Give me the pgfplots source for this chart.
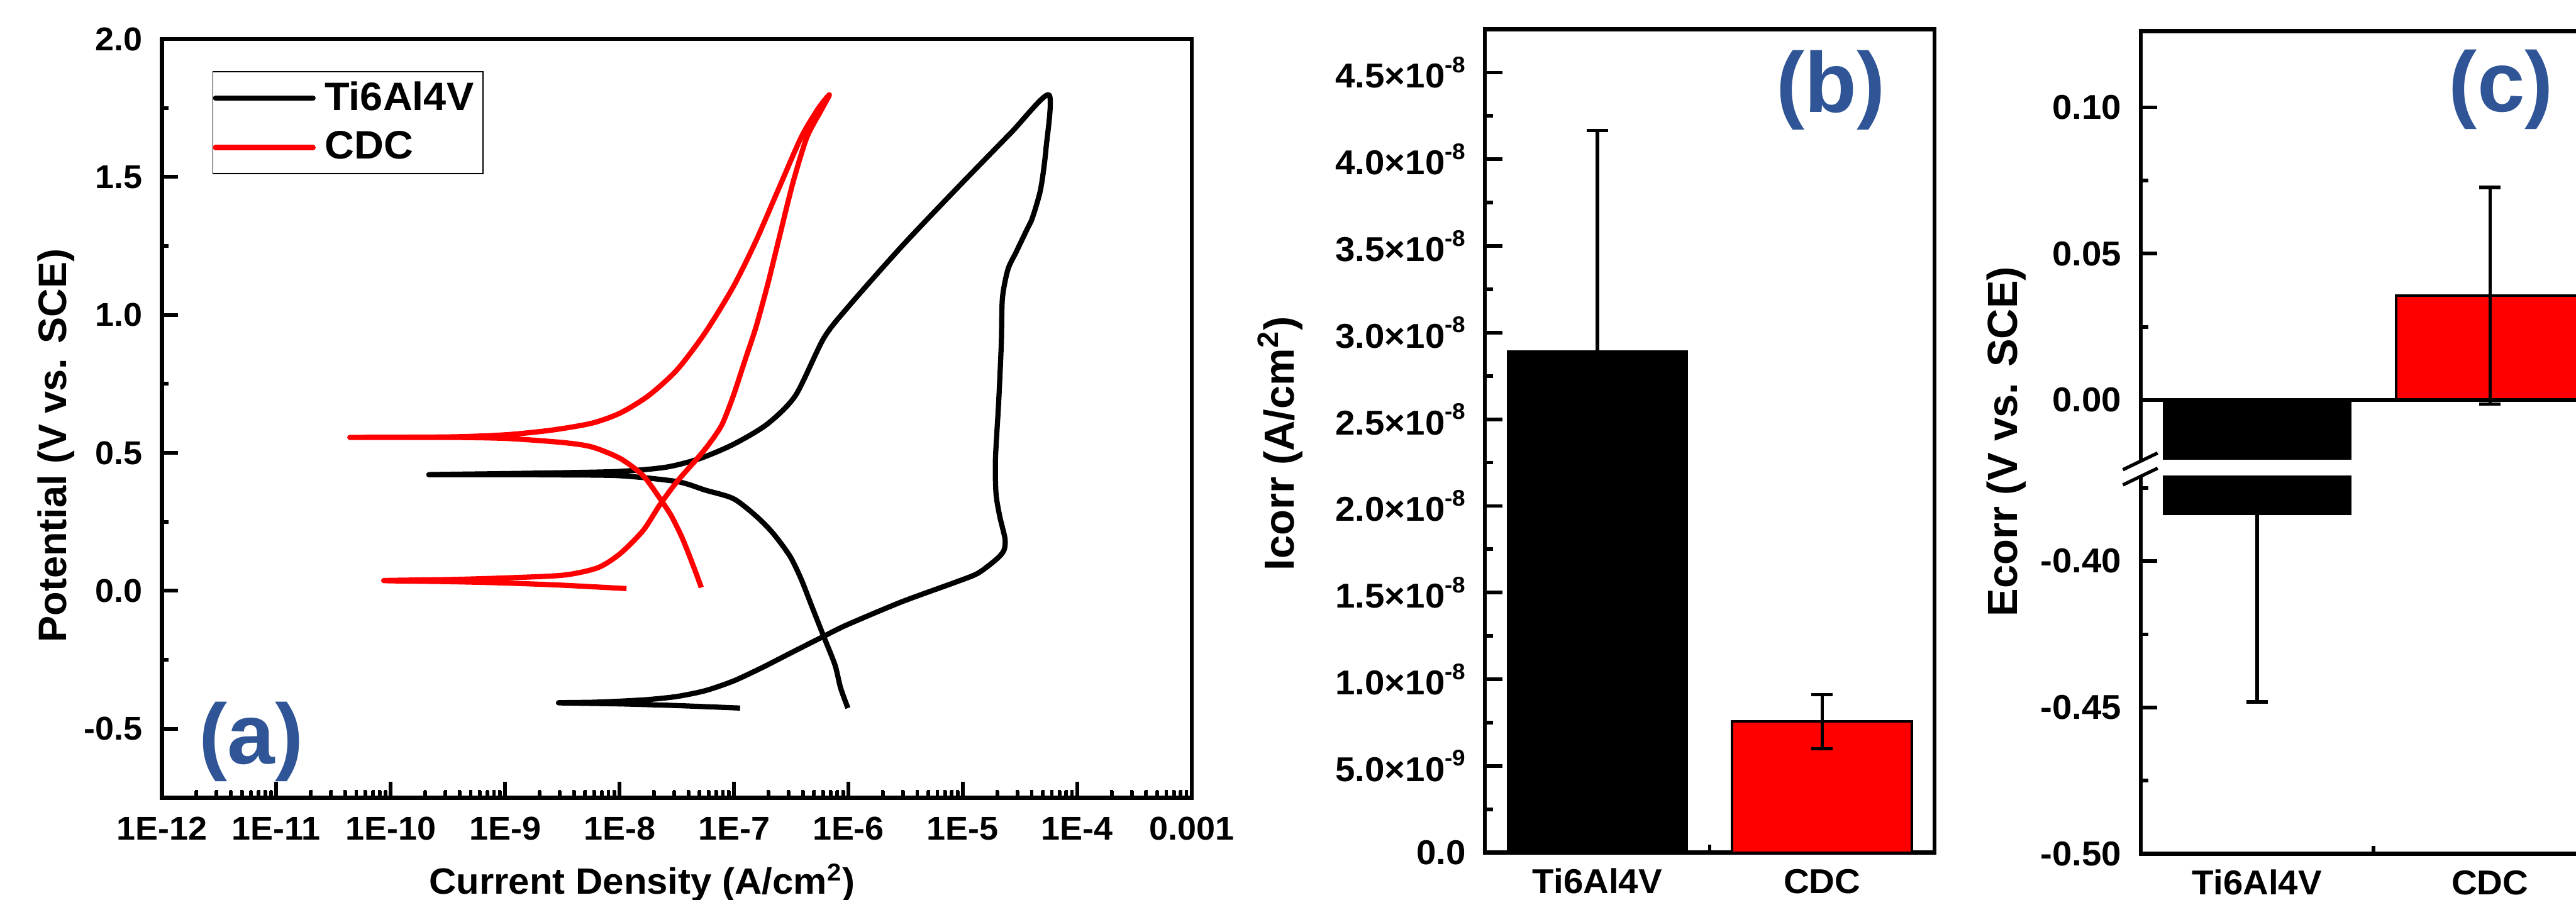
\documentclass[border=0pt]{standalone}
\usepackage{fontspec}
\setmainfont{Liberation Sans}[FakeStretch=1.03]
\newfontfamily\plainsf{Liberation Sans}
\usepackage{pgfplots}
\pgfplotsset{compat=1.18}
\definecolor{lblblue}{HTML}{2F5597}
\definecolor{cdcred}{HTML}{FF0000}

\newcommand\ylabfont{\plainsf\fontsize{13.8}{15}\selectfont\bfseries}
\newcommand\panelfont{\plainsf\fontsize{28}{30}\selectfont\bfseries}
\newcommand\sexp[1]{\raisebox{5pt}{\fontsize{7.4}{8}\selectfont#1}}

\pgfplotsset{
  orig/.style={scale only axis, anchor=south west,
    axis line style={line width=1.3pt},
    tick align=inside, xtick pos=left, ytick pos=left,
    major tick length=5.4pt, minor tick length=2.6pt,
    tick style={black, line width=1.2pt},
    tick label style={font=\fontsize{11.3}{12}\selectfont\bfseries},
    yticklabel style={anchor=east, xshift=-2.8pt},
    xticklabel style={anchor=base, yshift=-13.4pt},
    ylabel style={font=\ylabfont, anchor=center},
  },
  barax/.style={orig, xmin=-0.5, xmax=1.5, xtick={0,1}, xticklabels={Ti6Al4V,CDC},
    major x tick style={draw=none}, minor xtick={0.5},
    error bars/error bar style={line width=1.1pt, black},
    error bars/error mark options={rotate=90, mark size=3.5pt, line width=1.1pt, black},
  },
}

\begin{document}
\begin{tikzpicture}
\useasboundingbox (0,0) rectangle (844.8pt,295pt);
\clip (0,0) rectangle (844.8pt,295pt);

% (a) cyclic polarisation curves
\begin{axis}[orig, at={(53.1pt,33.4pt)}, width=337.7pt, height=248.8pt,
  major tick length=5.2pt, minor tick length=2.2pt,
  tick label style={font=\fontsize{10.8}{12}\selectfont\bfseries},
  xticklabel style={yshift=-0.4pt},
  xmode=log, xmin=1e-12, xmax=1e-3, ymin=-0.75, ymax=2.0,
  xtick={1e-12,1e-11,1e-10,1e-9,1e-8,1e-7,1e-6,1e-5,1e-4,1e-3},
  xticklabels={1E-12,1E-11,1E-10,1E-9,1E-8,1E-7,1E-6,1E-5,1E-4,0.001},
  ytick={-0.5,0,0.5,1,1.5,2}, yticklabels={-0.5,0.0,0.5,1.0,1.5,2.0},
  minor ytick={-0.25,0.25,0.75,1.25,1.75},
  xlabel={Current Density (A/cm\textsuperscript{2})},
  ylabel={Potential (V vs. SCE)},
  xlabel style={font=\fontsize{12}{13}\selectfont\bfseries, at={(rel axis cs:0.4664,-0.127)}, anchor=base},
  ylabel style={font=\plainsf\fontsize{13}{15}\selectfont\bfseries, at={(rel axis cs:-0.1028,0.464)}},
  legend style={at={(rel axis cs:0.0489,0.958)}, anchor=north west, draw=black, line width=0.4pt,
    font=\fontsize{13}{14}\selectfont\bfseries, inner xsep=0pt, inner ysep=0.8pt, row sep=0.4pt,
    nodes={inner ysep=2.5pt, inner xsep=3pt}},
  legend cell align=left,
  legend image code/.code={\draw[#1, line cap=round] (0pt,0pt) -- (32pt,0pt);},
]
\addplot[black, line width=1.7pt, line join=round, smooth, tension=0.45] coordinates {
(9.9e-7,-0.425) (8.55e-7,-0.352) (7.64e-7,-0.269) (6.08e-7,-0.165) (4.84e-7,-0.061)
(3.86e-7,0.043) (3.08e-7,0.126) (2.19e-7,0.209) (1.56e-7,0.271) (9.89e-8,0.334)
(5.61e-8,0.365) (3.18e-8,0.396)
(1.02e-8,0.417) (3.16e-9,0.420) (1.05e-9,0.421) (2.15e-10,0.421)
(1.05e-9,0.425) (3.16e-9,0.428) (1.02e-8,0.433) (2.54e-8,0.448) (5.0e-8,0.479)
(9.89e-8,0.531) (1.95e-7,0.604) (3.45e-7,0.708) (6.08e-7,0.915) (1.0e-6,1.03)
(2.92e-6,1.248) (8.75e-6,1.456) (2.62e-5,1.659) (5.64e-5,1.798)
(5.33e-5,1.601) (4.79e-5,1.456) (4.06e-5,1.352) (3.64e-5,1.310) (2.92e-5,1.227)
(2.48e-5,1.165) (2.22e-5,1.061) (2.17e-5,0.895) (2.06e-5,0.687) (1.93e-5,0.479)
(1.95e-5,0.354) (2.10e-5,0.271) (2.34e-5,0.188) (2.29e-5,0.147) (1.99e-5,0.116)
(1.36e-5,0.064) (8.75e-6,0.032) (2.92e-6,-0.040) (9.77e-7,-0.123) (6.08e-7,-0.165)
(3.08e-7,-0.227) (1.75e-7,-0.279) (9.89e-8,-0.327) (5.61e-8,-0.362) (3.18e-8,-0.383)
(1.80e-8,-0.394) (1.02e-8,-0.400) (5.78e-9,-0.404) (2.93e-9,-0.406)
(1.02e-8,-0.410) (3.18e-8,-0.416) (1.13e-7,-0.425)
};
\addlegendentry{Ti6Al4V}
\addplot[cdcred, line width=1.7pt, line join=round, smooth, tension=0.45] coordinates {
(5.18e-8,0.012) (4.47e-8,0.084) (3.56e-8,0.188) (2.84e-8,0.271) (2.26e-8,0.334)
(1.61e-8,0.417) (1.02e-8,0.479) (5.78e-9,0.521) (3.28e-9,0.537) (1.05e-9,0.552)
(3.39e-10,0.556) (4.39e-11,0.556)
(3.39e-10,0.558) (1.05e-9,0.566) (2.61e-9,0.583) (5.78e-9,0.608) (1.02e-8,0.645)
(1.80e-8,0.708) (3.18e-8,0.801) (5.61e-8,0.936) (9.89e-8,1.103) (1.56e-7,1.269)
(2.45e-7,1.456) (3.86e-7,1.643) (5.43e-7,1.747) (6.82e-7,1.798)
(5.75e-7,1.740) (4.33e-7,1.643) (3.26e-7,1.476) (2.45e-7,1.269) (1.95e-7,1.103)
(1.56e-7,0.957) (1.24e-7,0.832) (9.89e-8,0.708) (7.89e-8,0.604) (6.28e-8,0.541)
(5.0e-8,0.489) (3.18e-8,0.396) (2.26e-8,0.313) (1.61e-8,0.219) (1.02e-8,0.136)
(6.49e-9,0.084) (3.28e-9,0.057) (1.05e-9,0.047) (3.39e-10,0.041) (8.67e-11,0.037)
(3.39e-10,0.033) (1.05e-9,0.028) (3.28e-9,0.020) (1.15e-8,0.008)
};
\addlegendentry{CDC}
% log-axis ticks along the bottom edge (decades and 2..9 subdivisions)
\pgfplotsinvokeforeach{1e-11,1e-10,1e-9,1e-8,1e-7,1e-6,1e-5,1e-4}{
  \draw[line width=1.2pt] (axis cs:#1,-0.75) -- ++(0pt,5pt);}
\pgfplotsinvokeforeach{2e-12,3e-12,4e-12,5e-12,6e-12,7e-12,8e-12,9e-12,
    2e-11,3e-11,4e-11,5e-11,6e-11,7e-11,8e-11,9e-11,
    2e-10,3e-10,4e-10,5e-10,6e-10,7e-10,8e-10,9e-10,
    2e-9,3e-9,4e-9,5e-9,6e-9,7e-9,8e-9,9e-9,
    2e-8,3e-8,4e-8,5e-8,6e-8,7e-8,8e-8,9e-8,
    2e-7,3e-7,4e-7,5e-7,6e-7,7e-7,8e-7,9e-7,
    2e-6,3e-6,4e-6,5e-6,6e-6,7e-6,8e-6,9e-6,
    2e-5,3e-5,4e-5,5e-5,6e-5,7e-5,8e-5,9e-5,
    2e-4,3e-4,4e-4,5e-4,6e-4,7e-4,8e-4,9e-4}{
  \draw[line width=1.0pt] (axis cs:#1,-0.75) -- ++(0pt,2.6pt);}
\end{axis}

% (b) Icorr
\begin{axis}[barax, at={(487pt,15.4pt)}, width=147.4pt, height=270pt,
  major tick length=5.8pt, minor tick length=2.7pt,
  ymin=0, ymax=4.75e-8, scaled y ticks=false,
  ytick={0,5e-9,1e-8,1.5e-8,2e-8,2.5e-8,3e-8,3.5e-8,4e-8,4.5e-8},
  yticklabels={0.0,5.0×10\sexp{-9},1.0×10\sexp{-8},1.5×10\sexp{-8},
    2.0×10\sexp{-8},2.5×10\sexp{-8},3.0×10\sexp{-8},
    3.5×10\sexp{-8},4.0×10\sexp{-8},4.5×10\sexp{-8}},
  minor ytick={2.5e-9,7.5e-9,1.25e-8,1.75e-8,2.25e-8,2.75e-8,3.25e-8,3.75e-8,4.25e-8},
  ylabel={Icorr (A/cm\textsuperscript{2})},
  ylabel style={at={(rel axis cs:-0.456,0.497)}},
]
\addplot[ybar, bar width=0.8, bar shift=0pt, fill=black, draw=black,
  error bars/.cd, y dir=both, y explicit] coordinates {(0,2.893e-8) +- (0,1.272e-8)};
\addplot[ybar, bar width=0.8, bar shift=0pt, fill=cdcred, draw=black, line width=0.8pt,
  error bars/.cd, y dir=both, y explicit] coordinates {(1,7.56e-9) +- (0,1.56e-9)};
\end{axis}

% (c) Ecorr, broken axis: below the break values are shown shifted up by 0.345 V
\begin{axis}[barax, at={(702pt,15pt)}, width=152.8pt, height=269.8pt, clip=false,
  ymin=-0.155, ymax=0.126,
  ytick={-0.155,-0.105,-0.055,0,0.05,0.1},
  yticklabels={-0.50,-0.45,-0.40,0.00,0.05,0.10},
  minor ytick={-0.13,-0.08,-0.03,0.025,0.075},
  ylabel={Ecorr (V vs. SCE)},
  ylabel style={at={(rel axis cs:-0.288,0.501)}},
]
% Ti6Al4V: -0.384 V (shown at -0.384+0.345), error down to -0.448 V
\addplot[ybar, bar width=0.806, bar shift=0pt, fill=black, draw=black,
  error bars/.cd, y dir=minus, y explicit] coordinates {(0,-0.0392) +- (0,0.0639)};
\addplot[ybar, bar width=0.806, bar shift=0pt, fill=cdcred, draw=black, line width=0.8pt,
  error bars/.cd, y dir=both, y explicit] coordinates {(1,0.0356) +- (0,0.037)};
\draw[line width=1.3pt] (axis cs:-0.5,0) -- (axis cs:1.5,0);
\fill[white] (axis cs:-0.45,-0.0204) rectangle (axis cs:0.45,-0.0258);
\fill[white] (axis cs:-0.53,-0.0207) rectangle (axis cs:-0.47,-0.0255);
\draw[line width=1.1pt] (axis cs:-0.576,-0.0238) -- (axis cs:-0.427,-0.0181);
\draw[line width=1.1pt] (axis cs:-0.576,-0.0290) -- (axis cs:-0.427,-0.0233);
\end{axis}

\node[font=\panelfont, text=lblblue, inner sep=0pt] at (82.4pt,51.8pt) {(a)};
\node[font=\panelfont, text=lblblue, inner sep=0pt] at (600.4pt,265.4pt) {(b)};
\node[font=\panelfont, text=lblblue, inner sep=0pt] at (820.2pt,265.6pt) {(c)};
\end{tikzpicture}
\end{document}
